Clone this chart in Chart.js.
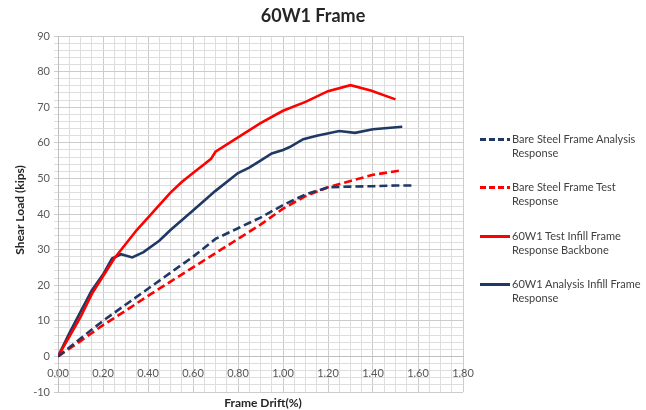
<!DOCTYPE html>
<html>
<head>
<meta charset="utf-8">
<script src="https://cdn.jsdelivr.net/npm/chart.js@4"></script>
<style>
  html, body { margin:0; padding:0; background:#fff; }
  #wrap { position:relative; width:646px; height:410px; }
  #legend { position:absolute; left:480px; top:0; font-family:Lato, sans-serif; font-size:11px; color:#404040; }
  .item { position:absolute; left:0; width:170px; }
  .swatch { position:absolute; left:0; top:6px; width:30px; height:3px; }
  .txt { position:absolute; left:32px; top:0; line-height:14px; white-space:nowrap; }
</style>
</head>
<body>
<div id="wrap">
  <canvas id="c" width="646" height="410"></canvas>
  <div id="legend"></div>
</div>
<script>
// 60W1 frame — shear load vs frame drift
const TITLE = '60W1 Frame';
const X_TITLE = 'Frame Drift(%)';
const Y_TITLE = 'Shear Load (kips)';

const NAVY = '#1f3864';
const RED = '#ff0000';

// Bare steel frame analysis (dashed navy)
const bareAnaX = [0, 0.1, 0.2, 0.3, 0.4, 0.5, 0.6, 0.7, 0.8, 0.9, 1.0, 1.1, 1.2, 1.3, 1.4, 1.5, 1.58];
const bareAnaY = [0, 5, 10, 14.5, 19, 23.5, 28, 33, 36, 39, 42.5, 45.5, 47.5, 47.7, 47.8, 48, 48];

// Bare steel frame test (dashed red)
const bareTestX = [0, 0.1, 0.2, 0.3, 0.4, 0.5, 0.6, 0.7, 0.8, 0.9, 1.0, 1.1, 1.2, 1.3, 1.4, 1.53];
const bareTestY = [0, 4.3, 8.8, 12.8, 17, 21, 25, 29, 33, 37, 41.5, 45, 47.5, 49.3, 51, 52.3];

// 60W1 test infill backbone (solid red)
const testInfX = [0, 0.05, 0.1, 0.15, 0.2, 0.25, 0.3, 0.35, 0.4, 0.45, 0.5, 0.55, 0.6, 0.65, 0.68, 0.7, 0.8, 0.9, 1.0, 1.1, 1.2, 1.3, 1.39, 1.5];
const testInfY = [0, 5.5, 11, 17.5, 22.5, 27.5, 31.5, 35.5, 39, 42.5, 46, 49, 51.5, 54, 55.5, 57.5, 61.5, 65.5, 69, 71.5, 74.5, 76.2, 74.7, 72.2];

// 60W1 analysis infill (solid navy)
const anaInfX = [0, 0.05, 0.1, 0.15, 0.2, 0.24, 0.28, 0.33, 0.38, 0.45, 0.5, 0.6, 0.7, 0.8, 0.85, 0.9, 0.95, 1.0, 1.03, 1.09, 1.15, 1.25, 1.32, 1.4, 1.53];
const anaInfY = [0, 6.5, 12.5, 18.5, 23, 27.5, 28.7, 27.8, 29.3, 32.5, 35.5, 41, 46.5, 51.5, 53, 55, 57, 58, 58.8, 61, 62, 63.3, 62.8, 63.8, 64.5];

const seriesNames = [
  ['Bare Steel Frame Analysis', 'Response'],
  ['Bare Steel Frame Test', 'Response'],
  ['60W1 Test Infill Frame', 'Response Backbone'],
  ['60W1 Analysis Infill Frame', 'Response']
];

function pts(xs, ys){ return xs.map((x, i) => ({ x, y: ys[i] })); }

const series = [
  { label: seriesNames[0].join(' '), data: pts(bareAnaX, bareAnaY), color: NAVY, dash: [8, 4] },
  { label: seriesNames[1].join(' '), data: pts(bareTestX, bareTestY), color: RED, dash: [8, 4] },
  { label: seriesNames[2].join(' '), data: pts(testInfX, testInfY), color: RED, dash: [] },
  { label: seriesNames[3].join(' '), data: pts(anaInfX, anaInfY), color: NAVY, dash: [] }
];

const near = (v, step) => Math.abs(v / step - Math.round(v / step)) < 1e-6;

const textPlugin = {
  id: 'texts',
  afterDraw(chart){
    const ctx = chart.ctx;
    ctx.save();
    ctx.fillStyle = '#262626';
    ctx.textAlign = 'center';
    ctx.textBaseline = 'middle';
    ctx.font = 'bold 18px Lato';
    ctx.fillText(TITLE, 313, 16);
    ctx.font = 'bold 12px Lato';
    ctx.fillText(X_TITLE, 263, 403);
    ctx.translate(20, 210);
    ctx.rotate(-Math.PI / 2);
    ctx.fillText(Y_TITLE, 0, 0);
    ctx.restore();
  }
};

new Chart(document.getElementById('c').getContext('2d'), {
  type: 'scatter',
  data: {
    datasets: series.map(s => ({
      label: s.label, data: s.data, showLine: true,
      borderColor: s.color, backgroundColor: s.color,
      borderWidth: 2.6, borderDash: s.dash, pointRadius: 0, tension: 0
    }))
  },
  options: {
    responsive: false,
    animation: false,
    layout: { padding: { left: 0, right: 183, top: 36, bottom: 18 } },
    plugins: { legend: { display: false }, tooltip: { enabled: false }, title: { display: false } },
    scales: {
      x: {
        type: 'linear', min: 0, max: 1.8,
        position: { y: 0 },
        ticks: {
          stepSize: 0.05, autoSkip: false, maxRotation: 0, padding: 5,
          color: '#595959', font: { family: 'Lato', size: 11 },
          callback: v => near(v, 0.2) ? v.toFixed(2) : ''
        },
        grid: {
          color: c => near(c.tick.value, 0.2) ? '#cccccc' : '#dedede',
          tickLength: 5, lineWidth: 1
        },
        border: { color: '#bfbfbf' }
      },
      y: {
        type: 'linear', min: -10, max: 90,
        afterFit: s => { s.width = 58; },
        ticks: {
          stepSize: 2, autoSkip: false, padding: 4,
          color: '#595959', font: { family: 'Lato', size: 11 },
          callback: v => near(v, 10) ? String(v) : ''
        },
        grid: {
          color: c => near(c.tick.value, 10) ? '#cccccc' : '#dedede',
          tickLength: 4, lineWidth: 1
        },
        border: { color: '#bfbfbf' }
      }
    }
  },
  plugins: [textPlugin]
});

// legend on the right, two text lines per entry
const legendTops = [132, 180, 229, 277];
const lg = document.getElementById('legend');
series.forEach((s, i) => {
  const it = document.createElement('div');
  it.className = 'item';
  it.style.top = legendTops[i] + 'px';
  const sw = document.createElement('div');
  sw.className = 'swatch';
  sw.style.background = s.dash.length
    ? `repeating-linear-gradient(to right, ${s.color} 0 6px, transparent 6px 9px)`
    : s.color;
  const tx = document.createElement('div');
  tx.className = 'txt';
  tx.innerHTML = seriesNames[i].join('<br>');
  it.appendChild(sw); it.appendChild(tx);
  lg.appendChild(it);
});
</script>
</body>
</html>
